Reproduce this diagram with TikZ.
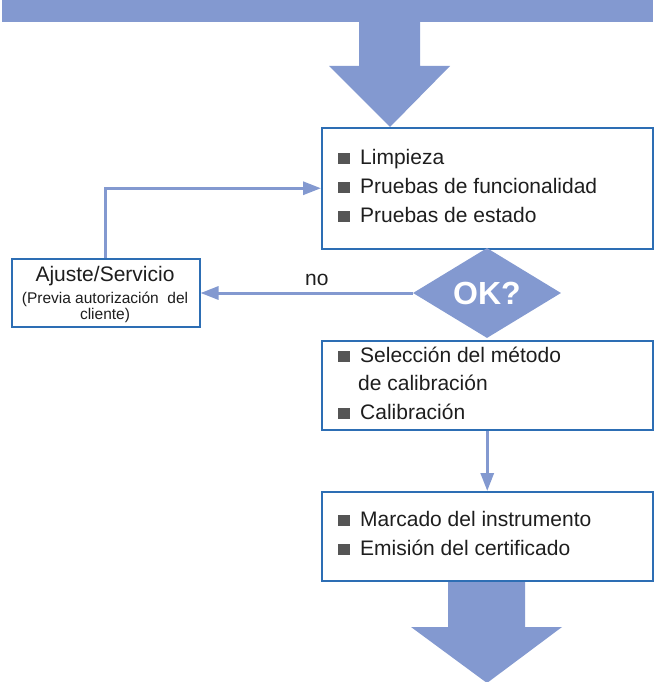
\documentclass[tikz,border=0pt]{standalone}
\usepackage{fontspec}
\setmainfont{Liberation Sans}
\usetikzlibrary{positioning,shapes.geometric,arrows.meta}

\definecolor{flowblue}{RGB}{131,153,208}
\definecolor{frameblue}{RGB}{45,110,180}
\definecolor{txtgray}{RGB}{30,30,30}
\definecolor{bulgray}{RGB}{85,85,85}

\newcommand{\sqbul}{\textcolor{bulgray}{\rule{12pt}{11.5pt}}\hspace{10pt}}

\tikzset{
  box/.style={draw=frameblue, line width=1.5pt, fill=white, anchor=north west, inner sep=0pt},
  item/.style={anchor=base west, inner sep=0pt, text=txtgray, font=\fontsize{21}{25}\selectfont},
  small/.style={anchor=base, inner sep=0pt, text=txtgray, font=\fontsize{15.5}{18}\selectfont},
  conn/.style={draw=flowblue, line width=3pt},
  tip/.style={-{Triangle[length=18pt,width=13pt]}},
}

\begin{document}
\begin{tikzpicture}[x=1pt,y=-1pt]
  \useasboundingbox (0,0) rectangle (653,682);

  % --- Banner and big arrows ---
  \fill[flowblue] (2,-1) rectangle (653,22);
  \fill[flowblue] (359,21) -- (420,21) -- (420,66) -- (450,66) -- (390,127)
    -- (329,66) -- (359,66) -- cycle;
  \fill[flowblue] (448,579) -- (525,579) -- (525,627) -- (562,627) -- (487,683)
    -- (411,627) -- (448,627) -- cycle;

  % --- Boxes ---
  \node[box, minimum width=331pt, minimum height=121pt] (clean) at (321,127) {};
  \node[box, minimum width=331pt, minimum height=89pt] (calib) at (321,340) {};
  \node[box, minimum width=331pt, minimum height=89pt] (mark) at (321,491) {};
  \node[box, minimum width=188pt, minimum height=68pt] (adjust) at (11,258) {};

  % --- Decision ---
  \node[diamond, fill=flowblue, inner sep=0pt, aspect=1.64,
        minimum width=148pt, minimum height=90pt, text=white,
        font=\fontsize{32}{34}\selectfont\bfseries] (ok) at (487,293) {OK?};

  % --- Box texts ---
  \node[item] (clean1) at (338,164) {\sqbul Limpieza};
  \node[item] (clean2) at (338,193) {\sqbul Pruebas de funcionalidad};
  \node[item] (clean3) at (338,222) {\sqbul Pruebas de estado};

  \node[item] (calib1) at (338,362) {\sqbul Selección del método};
  \node[item] (calib2) at (358,390) {de calibración};
  \node[item] (calib3) at (338,419) {\sqbul Calibración};

  \node[item] (mark1) at (338,526) {\sqbul Marcado del instrumento};
  \node[item] (mark2) at (338,555) {\sqbul Emisión del certificado};

  \node[item, anchor=base] (adjust1) at (105,281) {Ajuste/Servicio};
  \node[small] (adjust2) at (105,303) {(Previa autorización\ \ del};
  \node[small] (adjust3) at (105,319) {cliente)};

  \node[item] (nolabel) at (305,285) {no};

  % --- Connectors ---
  \draw[conn, tip] (ok.west) -- (ok.west -| adjust.east);
  \draw[conn, tip] (adjust.north) |- (clean.west);
  \draw[conn, tip] (calib.south) -- (mark.north);
\end{tikzpicture}
\end{document}
